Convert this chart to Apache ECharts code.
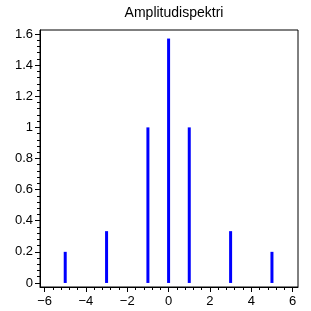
<!DOCTYPE html>
<html>
<head>
<meta charset="utf-8">
<script src="https://cdn.jsdelivr.net/npm/echarts@6/dist/echarts.min.js"></script>
<style>html,body{margin:0;padding:0;background:#fff}#c{width:311px;height:311px}</style>
</head>
<body>
<div id="c"></div>
<script>
var titleText = 'Amplitudispektri';
var freqs = [-5, -3, -1, 0, 1, 3, 5];
var amplitudes = [0.2, 0.333, 1.0, 1.571, 1.0, 0.333, 0.2];
var xTicks = [-6, -4, -2, 0, 2, 4, 6];
var yTicks = [0, 0.2, 0.4, 0.6, 0.8, 1, 1.2, 1.4, 1.6];

function minorsOf(ticks, n) {
  var out = [];
  for (var i = 0; i < ticks.length - 1; i++) {
    var step = (ticks[i + 1] - ticks[i]) / n;
    for (var k = 1; k < n; k++) out.push(+(ticks[i] + k * step).toFixed(6));
  }
  return out;
}
var xMinor = minorsOf(xTicks, 5);
var yMinor = minorsOf(yTicks, 5);

var FONT = 'Liberation Sans, Arial, sans-serif';
var xMin = -6.22, xMax = 6.26, yMin = -0.026, yMax = 1.626;

var chart = echarts.init(document.getElementById('c'), null, {renderer: 'canvas'});
chart.setOption({
  animation: false,
  backgroundColor: '#fff',
  title: {
    text: titleText, left: 169, top: 1, textAlign: 'center',
    textStyle: {fontFamily: FONT, fontSize: 14, fontWeight: 'normal', color: '#000'}
  },
  grid: {left: 40, right: 13, top: 30, bottom: 24, show: true, borderColor: '#000', borderWidth: 1, backgroundColor: 'transparent'},
  xAxis: [{
    type: 'value', min: xMin, max: xMax, position: 'bottom',
    axisLine: {show: true, onZero: false, lineStyle: {color: '#000', width: 1}},
    axisTick: {show: true, inside: false, length: 5, customValues: xTicks, lineStyle: {color: '#000'}},
    axisLabel: {customValues: xTicks, color: '#000', fontFamily: FONT, fontSize: 13, margin: 8,
      formatter: function (v) { return String(v).replace('-', '\u2212'); }},
    splitLine: {show: false}
  }, {
    type: 'value', min: xMin, max: xMax, position: 'bottom',
    axisLine: {show: false, onZero: false},
    axisTick: {show: true, length: 3, customValues: xMinor, lineStyle: {color: '#000'}},
    axisLabel: {show: false},
    splitLine: {show: false}
  }],
  yAxis: [{
    type: 'value', min: yMin, max: yMax, position: 'left',
    axisLine: {show: true, onZero: false, lineStyle: {color: '#000', width: 1}},
    axisTick: {show: true, inside: false, length: 5, customValues: yTicks, lineStyle: {color: '#000'}},
    axisLabel: {customValues: yTicks, color: '#000', fontFamily: FONT, fontSize: 13, margin: 7},
    splitLine: {show: false}
  }, {
    type: 'value', min: yMin, max: yMax, position: 'left',
    axisLine: {show: false, onZero: false},
    axisTick: {show: true, length: 3, customValues: yMinor, lineStyle: {color: '#000'}},
    axisLabel: {show: false},
    splitLine: {show: false}
  }],
  series: [{
    type: 'bar', xAxisIndex: 0, yAxisIndex: 0,
    barWidth: 3,
    itemStyle: {color: '#0000ff'},
    data: freqs.map(function (f, i) { return [f, amplitudes[i]]; })
  }]
});
</script>
</body>
</html>
